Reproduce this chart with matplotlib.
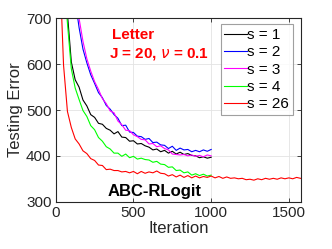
import numpy as np
import matplotlib
matplotlib.use("Agg")
import matplotlib.pyplot as plt

plt.rcParams['font.family'] = ['Liberation Sans', 'DejaVu Sans']

iters_short = list(range(0, 1001, 25))
iters_long = list(range(0, 1576, 25))

s1 = [1600, 1100, 820, 710, 605, 566, 550, 522, 509, 490, 484, 471, 469, 460, 456, 448, 453,
      441, 440, 432, 433, 426, 427, 422, 419, 413, 415, 409, 412, 406, 410, 404, 408, 403,
      405, 401, 400, 396, 398, 395, 397]
s2 = [2000, 1500, 1150, 950, 820, 740, 680, 633, 603, 577, 558, 538, 527, 510, 502, 490, 482,
      466, 467, 452, 451, 443, 442, 436, 438, 429, 430, 424, 423, 416, 421, 412, 417, 413,
      414, 409, 412, 409, 413, 410, 414]
s3 = [2000, 1520, 1180, 980, 850, 760, 700, 650, 612, 585, 562, 545, 525, 514, 498, 494, 476,
      468, 456, 455, 446, 442, 436, 435, 426, 427, 420, 422, 416, 413, 404, 403, 402, 403,
      400, 402, 399, 401, 398, 402, 400]
s4 = [1600, 1050, 800, 690, 590, 548, 523, 499, 486, 466, 457, 440, 432, 420, 415, 406, 406,
      399, 404, 396, 399, 393, 395, 392, 391, 386, 388, 382, 381, 375, 376, 368, 369, 363,
      365, 358, 361, 357, 360, 356, 358]
s26 = [1600, 820, 598, 497, 462, 437, 426, 411, 405, 394, 390, 380, 379, 370, 371, 368, 368,
       365, 366, 363, 366, 361, 366, 362, 365, 363, 367, 362, 361, 356, 359, 354, 358, 353,
       357, 352, 356, 352, 355, 353, 356, 352, 355, 351, 354, 351, 352, 350, 351, 348, 349,
       347, 350, 348, 351, 349, 351, 349, 352, 350, 352, 350, 353, 351]

labels = ['s = 1', 's = 2', 's = 3', 's = 4', 's = 26']
colors = ['black', 'blue', 'magenta', '#00ff00', 'red']
series = [(iters_short, s1), (iters_short, s2), (iters_short, s3), (iters_short, s4),
          (iters_long, s26)]

xticks = [0, 500, 1000, 1500]
yticks = [300, 400, 500, 600, 700]

fig = plt.figure(figsize=(3.32, 2.49), dpi=100)
ax = fig.add_axes([0.168, 0.190, 0.739, 0.736])

for (x, y), lab, c in zip(series, labels, colors):
    ax.plot(x, y, color=c, lw=0.8, label=lab)

ax.set_xlim(0, 1579)
ax.set_ylim(300, 700)
ax.set_xticks(xticks)
ax.set_yticks(yticks)
ax.grid(True, color='#e3e3e3', lw=0.6)
ax.set_axisbelow(True)
edge = '#262626'
for sp in ax.spines.values():
    sp.set_color(edge)
    sp.set_linewidth(0.8)
ax.tick_params(direction='in', length=3, width=0.6, color=edge, labelsize=11,
               labelcolor=edge, top=True, right=True, pad=3)
ax.set_xlabel('Iteration', fontsize=12, color=edge, labelpad=1)
ax.set_ylabel('Testing Error', fontsize=12, color=edge, labelpad=2)

ax.text(0.23, 0.909, 'Letter', transform=ax.transAxes, color='red', fontsize=11,
        fontweight='bold', ha='left', va='center')
ax.text(0.217, 0.805, r'J = 20, $\nu$ = 0.1', transform=ax.transAxes, color='red',
        fontsize=11, fontweight='bold', ha='left', va='center')
ax.text(0.213, 0.053, 'ABC-RLogit', transform=ax.transAxes, color='black', fontsize=12,
        fontweight='bold', ha='left', va='center')

leg = ax.legend(loc='upper right', bbox_to_anchor=(0.967, 0.969), borderaxespad=0,
                fontsize=11, frameon=True, fancybox=False, handlelength=1.45,
                handletextpad=0.05, labelspacing=0.22, borderpad=0.25)
leg.get_frame().set_edgecolor('#888888')
leg.get_frame().set_linewidth(0.8)

fig.savefig('out.png', dpi=100)
